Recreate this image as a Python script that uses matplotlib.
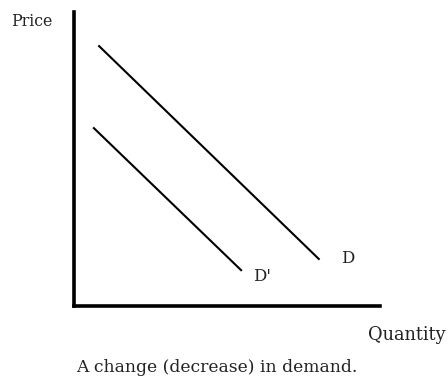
import matplotlib.pyplot as plt

# demand curves, (quantity, price) end points
d_q = [0.82, 8.0]
d_p = [8.84, 1.6]
d2_q = [0.65, 5.46]
d2_p = [6.05, 1.22]

labels = ["D", "D'"]
label_pos = [(8.95, 1.63), (6.14, 1.02)]

plt.rcParams['font.family'] = ['DejaVu Serif']

fig = plt.figure(figsize=(4.48, 3.84), dpi=100)
ax = fig.add_axes([74 / 448, 78 / 384, 306 / 448, 294 / 384])

ax.plot(d_q, d_p, color='black', lw=1.5)
ax.plot(d2_q, d2_p, color='black', lw=1.5)
for lab, (x, y) in zip(labels, label_pos):
    ax.text(x, y, lab, fontsize=12, ha='center', va='center', color='#222222')

ax.set_xlim(0, 10)
ax.set_ylim(0, 10)
ax.spines['top'].set_visible(False)
ax.spines['right'].set_visible(False)
ax.spines['left'].set_linewidth(2.6)
ax.spines['bottom'].set_linewidth(2.6)
ax.set_xticks([])
ax.set_yticks([])

fig.text(32 / 448, 1 - 22 / 384, "Price", fontsize=11.3, ha='center', va='center',
         color='#222222')
fig.text(407 / 448, 1 - 335 / 384, "Quantity", fontsize=12.8, ha='center', va='center',
         color='#222222')
fig.text(217 / 448, 1 - 367 / 384, "A change (decrease) in demand.", fontsize=12.3,
         ha='center', va='center', color='#222222')

fig.savefig('out.png', dpi=100)
